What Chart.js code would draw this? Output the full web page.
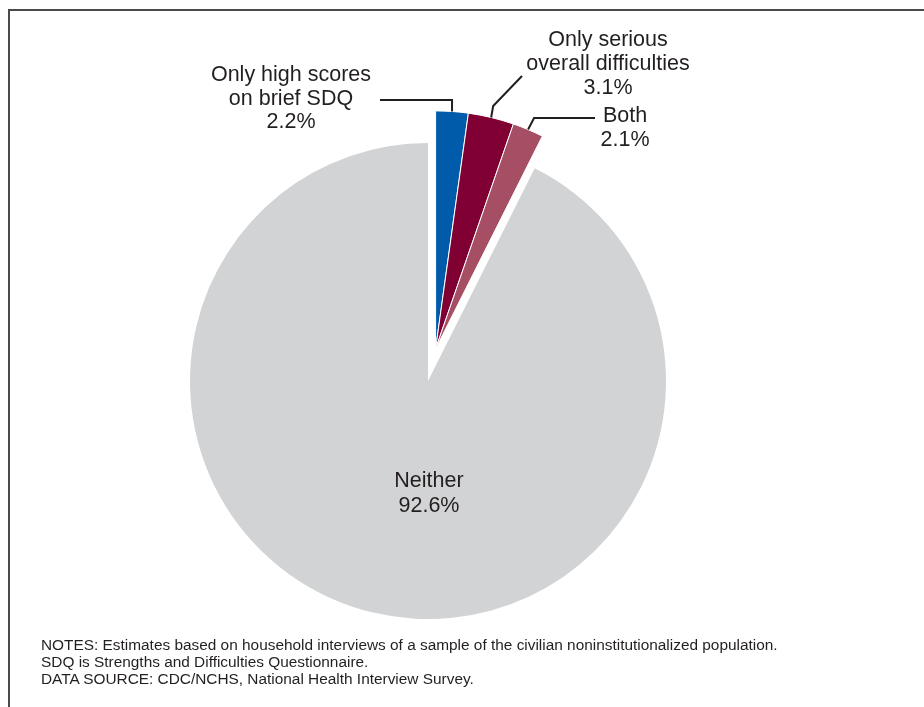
<!DOCTYPE html>
<html>
<head>
<meta charset="utf-8">
<script src="https://cdn.jsdelivr.net/npm/chart.js@4.4.1/dist/chart.umd.min.js"></script>
<style>
    html, body { margin: 0; padding: 0; background: #fff; }
    #wrap { position: relative; width: 924px; height: 707px; overflow: hidden; }
    #frame {
        position: absolute; left: 8px; top: 9px; width: 940px; height: 720px;
        border-top: 2px solid #4a4a4a; border-left: 2px solid #4a4a4a;
    }
    #chartBox { position: absolute; left: 0; top: 0; width: 924px; height: 707px; }
    #notes {
        position: absolute; left: 41px; top: 636px;
        font-family: "Liberation Sans", Arial, sans-serif; font-size: 15.4px; line-height: 17px;
        color: #231f20; white-space: nowrap;
    }
</style>
</head>
<body>
<div id="wrap">
    <div id="frame"></div>
    <div id="chartBox"><canvas id="pieChart"></canvas></div>
    <div id="notes">
        NOTES: Estimates based on household interviews of a sample of the civilian noninstitutionalized population.<br>
        SDQ is Strengths and Difficulties Questionnaire.<br>
        DATA SOURCE: CDC/NCHS, National Health Interview Survey.
    </div>
</div>

<script>
// data
const categories = ['Only high scores\non brief SDQ', 'Only serious\noverall difficulties', 'Both', 'Neither'];
const percents = [2.2, 3.1, 2.1, 92.6];
const sliceColors = ['#005baa', '#800034', '#a54e64', '#d1d3d4'];

// posisi label (layout saja)
const labelPos = [
    { x: 291, y: 81, gap: 23.5 },
    { x: 608, y: 46, gap: 24 },
    { x: 625, y: 122, gap: 24 },
    { x: 429, y: 487, gap: 24.5 }
];
const EXPLODE = 33;
const INK = '#231f20';

// geser 3 slice kecil bersama-sama (exploded group)
const explodePlugin = {
    id: 'explodeGroup',
    afterDatasetUpdate(chart, args) {
        const arcs = chart.getDatasetMeta(args.index).data.slice(0, 3);
        const mid = (arcs[0].startAngle + arcs[2].endAngle) / 2;
        arcs.forEach(a => {
            a.x += Math.cos(mid) * EXPLODE;
            a.y += Math.sin(mid) * EXPLODE;
        });
    }
};

// garis penunjuk + label
const labelPlugin = {
    id: 'sliceLabels',
    afterDatasetsDraw(chart) {
        const ctx = chart.ctx;
        const arcs = chart.getDatasetMeta(0).data;

        const edge = (a) => {
            const m = (a.startAngle + a.endAngle) / 2;
            return { x: a.x + Math.cos(m) * a.outerRadius, y: a.y + Math.sin(m) * a.outerRadius };
        };

        ctx.save();
        ctx.strokeStyle = INK;
        ctx.lineWidth = 2;
        ctx.lineJoin = 'miter';

        const p0 = edge(arcs[0]);
        ctx.beginPath();
        ctx.moveTo(p0.x, p0.y);
        ctx.lineTo(p0.x, 100);
        ctx.lineTo(380, 100);
        ctx.stroke();

        const p1 = edge(arcs[1]);
        ctx.beginPath();
        ctx.moveTo(p1.x, p1.y);
        ctx.lineTo(p1.x + 2, 106);
        ctx.lineTo(522, 76);
        ctx.stroke();

        const p2 = edge(arcs[2]);
        ctx.beginPath();
        ctx.moveTo(p2.x, p2.y);
        ctx.lineTo(p2.x + 6, 118);
        ctx.lineTo(595, 118);
        ctx.stroke();

        ctx.fillStyle = INK;
        ctx.font = '21.5px "Liberation Sans", Arial, sans-serif';
        ctx.textAlign = 'center';
        ctx.textBaseline = 'alphabetic';
        categories.forEach((name, i) => {
            const lines = name.split('\n').concat([percents[i].toFixed(1) + '%']);
            const pos = labelPos[i];
            lines.forEach((ln, k) => ctx.fillText(ln, pos.x, pos.y + k * pos.gap));
        });
        ctx.restore();
    }
};

const ctx = document.getElementById('pieChart').getContext('2d');
new Chart(ctx, {
    type: 'pie',
    data: {
        labels: categories,
        datasets: [{
            data: percents,
            backgroundColor: sliceColors,
            borderColor: '#ffffff',
            borderWidth: [1, 1, 1, 0]
        }]
    },
    options: {
        responsive: true,
        maintainAspectRatio: false,
        animation: false,
        events: [],
        radius: 238,
        layout: { padding: { left: 190, right: 258, top: 143, bottom: 88 } },
        plugins: { legend: { display: false }, tooltip: { enabled: false } }
    },
    plugins: [explodePlugin, labelPlugin]
});
</script>
</body>
</html>
